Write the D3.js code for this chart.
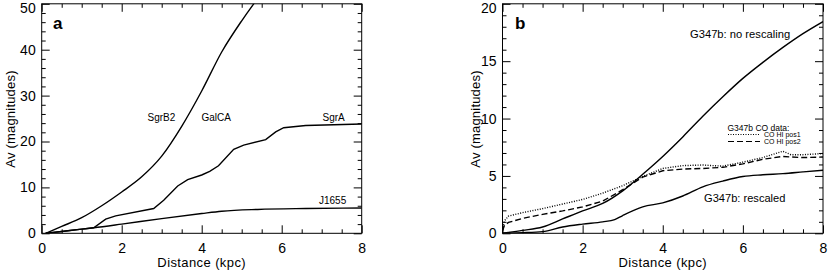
<!DOCTYPE html>
<html>
<head>
<script src="https://d3js.org/d3.v7.min.js"></script>
<style>
  body { margin: 0; background: #fff; }
  svg { display: block; font-family: "Liberation Sans", Arial, sans-serif; }
  .tick text { font-size: 14px; fill: #000; }
  .tick line { stroke: #000; }
  .curve { fill: none; stroke: #000; stroke-width: 1.4; }
</style>
</head>
<body>
<div id="chart"></div>
<script>
// panel a: extinction vs distance towards four sightlines
const distA = [0.1, 0.5, 1.0, 1.5, 2.0, 2.5, 3.0, 3.5, 4.0, 4.5, 5.0, 5.3, 5.6];
const sgrB2 = [0, 1.5, 3.4, 6.0, 9.0, 12.3, 16.8, 23.3, 31.0, 39.5, 46.3, 50.0, 53.5];

const distGalCA = [0.1, 0.5, 1.0, 1.3, 1.6, 1.85, 2.8, 3.05, 3.4, 3.65, 4.0, 4.2, 4.42, 4.8, 5.05, 5.6, 5.85, 6.05, 6.6, 8.0];
const galCA = [0, 0.4, 0.9, 1.2, 3.1, 3.8, 5.4, 7.2, 10.3, 11.7, 12.7, 13.5, 14.7, 18.3, 19.2, 20.4, 22.1, 23.0, 23.5, 23.8];

const distJ1655 = [0.1, 0.5, 1.0, 1.3, 2.0, 3.0, 4.0, 4.5, 5.4, 6.6, 8.0];
const j1655 = [0, 0.4, 0.9, 1.2, 2.0, 3.2, 4.3, 4.8, 5.2, 5.4, 5.5];

// panel b: G347b
const distB = [0, 0.5, 1.0, 1.5, 2.0, 2.5, 3.0, 3.5, 4.0, 4.5, 5.0, 5.5, 6.0, 6.5, 7.0, 7.5, 8.0];
const noRescaling = [0, 0.25, 0.55, 1.25, 1.95, 2.6, 3.7, 5.15, 6.7, 8.4, 10.2, 11.9, 13.5, 14.9, 16.2, 17.4, 18.45];

const distRescaled = [0, 0.5, 1.0, 1.5, 2.0, 2.5, 2.8, 3.0, 3.5, 4.0, 4.5, 5.0, 5.5, 6.0, 6.5, 7.0, 7.5, 8.0];
const rescaled = [0, 0.05, 0.15, 0.55, 0.8, 1.0, 1.2, 1.55, 2.3, 2.65, 3.25, 4.05, 4.55, 4.95, 5.1, 5.2, 5.35, 5.5];

const distPos = [0, 0.05, 0.15, 0.5, 1.0, 1.5, 2.0, 2.5, 3.0, 3.5, 4.0, 4.5, 5.0, 5.5, 6.0, 6.5, 7.0, 7.2, 7.5, 8.0];
const pos1 = [0.3, 1.1, 1.5, 1.8, 2.15, 2.55, 2.95, 3.5, 4.15, 4.95, 5.65, 5.9, 5.95, 5.85, 6.2, 6.6, 7.15, 6.85, 6.85, 6.95];
const pos2 = [0.2, 0.7, 0.95, 1.3, 1.65, 1.95, 2.3, 2.8, 3.8, 4.9, 5.45, 5.6, 5.65, 5.75, 6.05, 6.45, 6.7, 6.65, 6.6, 6.65];

const xTicks = [0, 2, 4, 6, 8];
const yTicksA = [0, 10, 20, 30, 40, 50];
const yTicksB = [0, 5, 10, 15, 20];

const svg = d3.select("#chart").append("svg")
    .attr("width", 830).attr("height", 271);

const zip = (xs, ys) => xs.map((x, i) => [x, ys[i]]);

function panel(id, xRange, yDomain, yRange, yMajor, yMinorStep) {
    const x = d3.scaleLinear().domain([0, 8]).range(xRange);
    const y = d3.scaleLinear().domain(yDomain).range(yRange);
    const g = svg.append("g");

    const xMinor = d3.range(0, 8.01, 0.5).filter(v => v % 2 !== 0);
    const yMinor = d3.range(yDomain[0], yDomain[1] + 0.01, yMinorStep).filter(v => !yMajor.includes(v));

    // bottom
    g.append("g").attr("transform", `translate(0,${yRange[0]})`)
        .call(d3.axisBottom(x).tickValues(xTicks).tickSize(-8).tickPadding(10).tickFormat(d3.format("d")));
    g.append("g").attr("transform", `translate(0,${yRange[0]})`)
        .call(d3.axisBottom(x).tickValues(xMinor).tickSize(-4).tickFormat(""));
    // top
    g.append("g").attr("transform", `translate(0,${yRange[1]})`)
        .call(d3.axisTop(x).tickValues(xTicks).tickSize(-8).tickFormat(""));
    g.append("g").attr("transform", `translate(0,${yRange[1]})`)
        .call(d3.axisTop(x).tickValues(xMinor).tickSize(-4).tickFormat(""));
    // left
    const left = g.append("g").attr("transform", `translate(${xRange[0]},0)`)
        .call(d3.axisLeft(y).tickValues(yMajor).tickSize(-8).tickPadding(6).tickFormat(d3.format("d")));
    g.append("g").attr("transform", `translate(${xRange[0]},0)`)
        .call(d3.axisLeft(y).tickValues(yMinor).tickSize(-4).tickFormat(""));
    // right
    g.append("g").attr("transform", `translate(${xRange[1]},0)`)
        .call(d3.axisRight(y).tickValues(yMajor).tickSize(-8).tickFormat(""));
    g.append("g").attr("transform", `translate(${xRange[1]},0)`)
        .call(d3.axisRight(y).tickValues(yMinor).tickSize(-4).tickFormat(""));

    g.selectAll(".domain").remove();
    g.selectAll(".tick text").attr("font-family", null).attr("font-size", null);
    // keep the top label inside the picture
    left.selectAll(".tick text").filter(d => d === yDomain[1]).attr("y", 4);

    g.append("rect")
        .attr("x", xRange[0]).attr("y", yRange[1])
        .attr("width", xRange[1] - xRange[0]).attr("height", yRange[0] - yRange[1])
        .attr("fill", "none").attr("stroke", "#000").attr("stroke-width", 1);

    svg.append("clipPath").attr("id", id)
        .append("rect")
        .attr("x", xRange[0]).attr("y", yRange[1])
        .attr("width", xRange[1] - xRange[0]).attr("height", yRange[0] - yRange[1]);

    const plot = g.append("g").attr("clip-path", `url(#${id})`);

    // axis titles
    g.append("text")
        .attr("x", (xRange[0] + xRange[1]) / 2).attr("y", 267)
        .attr("text-anchor", "middle").attr("font-size", 13).attr("letter-spacing", 0.4)
        .text("Distance (kpc)");

    return {x, y, g, plot};
}

const A = panel("clipA", [41.7, 361.7], [0, 50], [233.3, 3.8], yTicksA, 2);
const B = panel("clipB", [502.5, 823], [0, 20], [233.3, 3.8], yTicksB, 1);

function yTitle(px) {
    svg.append("text")
        .attr("transform", `translate(${px},119) rotate(-90)`)
        .attr("text-anchor", "middle").attr("font-size", 13).attr("letter-spacing", 0.2)
        .text("Av (magnitudes)");
}
yTitle(15);
yTitle(480);

function draw(p, xs, ys, curve) {
    const line = d3.line().x(d => p.x(d[0])).y(d => p.y(d[1])).curve(curve);
    return p.plot.append("path").datum(zip(xs, ys))
        .attr("class", "curve").attr("d", line);
}

draw(A, distA, sgrB2, d3.curveMonotoneX).attr("stroke-width", 1.7);
draw(A, distGalCA, galCA, d3.curveLinear);
draw(A, distJ1655, j1655, d3.curveMonotoneX);

draw(B, distB, noRescaling, d3.curveMonotoneX);
draw(B, distRescaled, rescaled, d3.curveMonotoneX);
draw(B, distPos, pos1, d3.curveLinear).attr("stroke-width", 1).attr("stroke-dasharray", "1,1.5");
draw(B, distPos, pos2, d3.curveLinear).attr("stroke-width", 1.1).attr("stroke-dasharray", "6,3");

// panel letters
svg.append("text").attr("x", 53).attr("y", 28.5)
    .attr("font-size", 17).attr("font-weight", "bold").text("a");
svg.append("text").attr("x", 515).attr("y", 28.5)
    .attr("font-size", 17).attr("font-weight", "bold").text("b");

// curve labels
const labA = [
    {t: "SgrB2", x: 147.5, y: 120.5},
    {t: "GalCA", x: 201.5, y: 120.5},
    {t: "SgrA", x: 322.5, y: 120.5},
    {t: "J1655", x: 319, y: 204}
];
svg.selectAll(".labA").data(labA).enter().append("text")
    .attr("x", d => d.x).attr("y", d => d.y)
    .attr("font-size", 10).text(d => d.t);

svg.append("text").attr("x", 690).attr("y", 37.5).attr("font-size", 11.2).text("G347b: no rescaling");
svg.append("text").attr("x", 704).attr("y", 201.5).attr("font-size", 11.1).text("G347b: rescaled");

// legend
svg.append("text").attr("x", 727.5).attr("y", 130.5).attr("font-size", 8.5).text("G347b CO data:");
svg.append("line").attr("x1", 728).attr("x2", 760).attr("y1", 134.5).attr("y2", 134.5)
    .attr("stroke", "#000").attr("stroke-width", 1).attr("stroke-dasharray", "1,1.5");
svg.append("line").attr("x1", 728).attr("x2", 760).attr("y1", 141.5).attr("y2", 141.5)
    .attr("stroke", "#000").attr("stroke-width", 1.1).attr("stroke-dasharray", "6,3");
svg.append("text").attr("x", 764).attr("y", 137).attr("font-size", 7).text("CO HI pos1");
svg.append("text").attr("x", 764).attr("y", 144).attr("font-size", 7).text("CO HI pos2");
</script>
</body>
</html>
